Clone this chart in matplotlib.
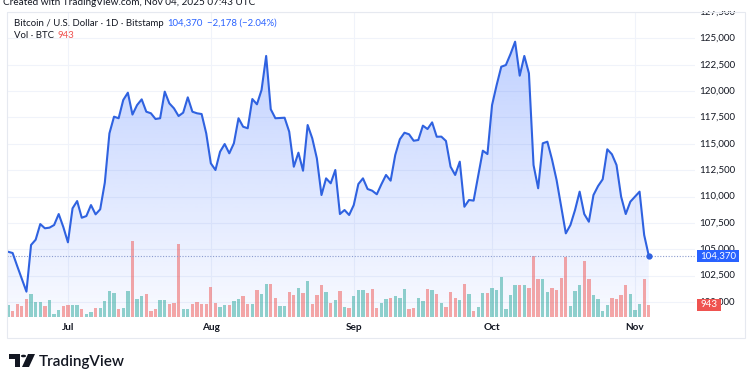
import numpy as np
import pandas as pd
import matplotlib
matplotlib.use("Agg")
import matplotlib.pyplot as plt
import matplotlib.dates as mdates
from matplotlib.patches import Rectangle, Polygon, Circle
from matplotlib.transforms import blended_transform_factory

# ---------------- data ----------------
start_date = "2025-06-18"
end_date = "2025-11-04"

close = [
    104760, 104640, 103400, 102200, 100980, 105400, 105900, 107380, 106980, 107040,
    107290, 108330, 107100,
    105650, 108870, 109560, 107980, 108140, 109180, 108300, 108780, 111300, 115970,
    117550, 117400, 119130, 119820, 117750, 118650, 119190, 118020, 117870, 117330,
    117400, 119920, 118810, 118340, 117610, 117930, 119380, 118020, 117870, 117800,
    115970,
    113130, 112500, 114230, 114960, 114080, 115030, 117400, 116600, 116450, 119220,
    118720, 120080, 123300, 118250, 117400, 117420, 117450, 116130, 112810, 114140,
    112430, 116760, 115500, 113600, 110130, 111710, 111240, 112500, 108330, 108710,
    108240,
    109180, 111170, 111710, 110700, 110540, 110200, 111150, 112030, 111490, 113920,
    115410, 116030, 115880, 115270, 115340, 116700, 116380, 117010, 115650, 115660,
    115250, 112810, 112030, 113290, 109020, 109660, 109600, 111960, 114330, 114010,
    118650, 120550, 122280, 122440, 123480, 124650, 121430, 123300, 121660, 112970,
    110770, 115030, 115180, 113510, 111550, 109020, 106500, 107290, 108710, 110450,
    108330, 107600, 110130, 110980, 111620, 114460, 113990, 112970, 109970, 108330,
    109500,
    109970, 110450, 106340, 104370,
]

volume = [
    943, 437, 974, 821, 1358, 1741, 1150, 1150, 821, 1281,
    207, 514, 821, 897, 897, 897, 591, 207, 384, 690,
    690, 1204, 1971, 1864, 637, 690, 1994, 5806, 1404, 1588,
    1787, 460, 591, 1327, 1281, 974, 1074, 5622, 591, 591,
    1020, 1150, 1020, 1020, 2301,
    1074, 767, 897, 897, 1204, 1404, 1588, 974, 997, 2048,
    1787, 2554, 2531, 1457, 821, 821, 1918, 1664, 2224, 1818,
    2738, 974, 1710, 2431, 1918, 1074, 1327, 1971, 767, 713,
    1588, 2094, 2094, 1864, 2171, 713, 1097, 1358, 1457, 1588,
    1457, 2171, 591, 690, 1480, 1227, 2171,
    2094, 1787, 1074, 767, 1918, 1480, 1281, 2554, 1787, 437,
    767, 1841, 1841, 2247, 2048, 3068, 591, 1664, 2431, 2431,
    2477, 2247, 4679, 2938, 2938, 1918, 2224, 2048, 2991, 4602,
    844, 1994, 2431, 4295, 2938, 1710, 1404, 437, 943, 1480,
    1404, 1664, 2477, 1787, 514, 974, 2938, 943,
]

month_ticks = ["2025-07-01", "2025-08-01", "2025-09-01", "2025-10-01", "2025-11-01"]
month_labels = ["Jul", "Aug", "Sep", "Oct", "Nov"]
price_ticks = [100000, 102500, 105000, 107500, 110000, 112500, 115000,
               117500, 120000, 122500, 125000, 127500]

title_text = "Bitcoin / U.S. Dollar \u00b7 1D \u00b7 Bitstamp"
last_price = 104370
last_change = -2178
last_change_pct = -2.04
vol_title = "Vol \u00b7 BTC"
last_volume = 943
created_text = "Created with TradingView.com, Nov 04, 2025 07:43 UTC"
brand_text = "TradingView"

# ---------------- styling ----------------
W, H = 750, 375
FONT = ["Lato", "DejaVu Sans"]
TXT = "#131722"
LINE = "#2f62e0"
UP = (38/255, 166/255, 154/255, 0.5)
DOWN = (239/255, 83/255, 80/255, 0.5)
GRID = "#f0f3fa"
plt.rcParams["font.family"] = FONT

dates = pd.date_range(start_date, end_date, freq="D")
assert len(dates) == len(close) == len(volume)
x = mdates.date2num(dates)
close = np.array(close, dtype=float)
volume = np.array(volume, dtype=float)

up = np.r_[True, close[1:] >= close[:-1]]
bar_colors = [UP if u else DOWN for u in up]

fig = plt.figure(figsize=(W / 100, H / 100), dpi=100)
fig.patch.set_facecolor("white")


def fx(px):
    return px / W


def fy(py):
    return 1 - py / H


AX_L, AX_R, AX_T, AX_B = 7, 695, 12, 317
rect = [fx(AX_L), fy(AX_B), (AX_R - AX_L) / W, (AX_B - AX_T) / H]

PX_PER_DAY = 4.61
PRICE_PER_PX = 2500 / 26.4
y_top = 125000 + (38 - AX_T) * PRICE_PER_PX
y_bot = 125000 - (AX_B - 38) * PRICE_PER_PX
x_left = x[0] - (8 - AX_L) / PX_PER_DAY
x_right = x[0] + (AX_R - 8) / PX_PER_DAY

# base axes: grid + gradient fill
ax = fig.add_axes(rect)
ax.set_xlim(x_left, x_right)
ax.set_ylim(y_bot, y_top)
for s in ax.spines.values():
    s.set_visible(False)
ax.set_yticks(price_ticks)
ax.set_xticks(mdates.date2num(pd.to_datetime(month_ticks)))
ax.set_xticklabels(month_labels, fontsize=7.2, color=TXT, fontweight="bold")
ax.tick_params(axis="x", length=0, pad=4.5)
ax.tick_params(axis="y", length=0, labelleft=False, labelright=False)
ax.grid(True, color=GRID, lw=0.8)
ax.set_axisbelow(True)

# gradient under the line
verts = [(x[0], y_bot)] + list(zip(x, close)) + [(x[-1], y_bot)]
poly = Polygon(verts, closed=True, facecolor="none", edgecolor="none")
ax.add_patch(poly)
grad = np.linspace(0.30, 0.03, 256).reshape(-1, 1)
rgba = np.zeros((256, 1, 4))
rgba[..., 0] = 41 / 255
rgba[..., 1] = 98 / 255
rgba[..., 2] = 255 / 255
rgba[..., 3] = grad
im = ax.imshow(rgba, extent=[x[0], x[-1], y_bot, 125500], aspect="auto",
               origin="upper", zorder=1)
im.set_clip_path(poly)

# volume axes
vax = ax.twinx()
vax.set_ylim(0, (AX_B - AX_T) * (last_volume / 12.3))
vax.bar(x, volume, width=0.72, color=bar_colors, zorder=2)
vax.set_yticks([])
for s in vax.spines.values():
    s.set_visible(False)

# line axes
lax = ax.twinx()
lax.set_ylim(y_bot, y_top)
lax.set_yticks([])
for s in lax.spines.values():
    s.set_visible(False)
lax.plot(x, close, color=LINE, lw=1.5, solid_joinstyle="round", zorder=3)
lax.axhline(last_price, color="#8c9ccf", lw=0.8, ls=(0, (1, 1.5)), zorder=2)
lax.plot([x[-1]], [last_price], "o", color=LINE, ms=3.5, zorder=4)

# right price scale labels
tr_price = blended_transform_factory(fig.transFigure, ax.transData)
for p in price_ticks:
    fig.text(fx(735), p, f"{p:,}", transform=tr_price, ha="right", va="center",
             fontsize=7.0, color=TXT)

# cover the cut-off top of the scale
fig.patches.append(Rectangle((fx(690), fy(11)), fx(60), 11 / H, transform=fig.transFigure,
                             facecolor="white", edgecolor="none", zorder=5))

# last price / last volume tags
tag_h = 12 / H
y_last = ax.transData.transform((0, last_price))[1] / fig.bbox.height
fig.patches.append(Rectangle((fx(697), y_last - tag_h / 2), fx(42), tag_h,
                             transform=fig.transFigure, facecolor="#2962ff",
                             edgecolor="none", zorder=6))
fig.text(fx(718), y_last, f"{last_price:,}", ha="center", va="center",
         fontsize=7.0, color="white", zorder=7)

y_vol = vax.transData.transform((0, last_volume))[1] / fig.bbox.height
fig.patches.append(Rectangle((fx(697), y_vol - tag_h / 2), fx(24), tag_h,
                             transform=fig.transFigure, facecolor="#ef5350",
                             edgecolor="none", zorder=6))
fig.text(fx(709), y_vol, f"{last_volume:,}", ha="center", va="center",
         fontsize=7.0, color="white", zorder=7)

# chart frame
fig.patches.append(Rectangle((fx(AX_L), fy(338)), fx(745 - AX_L), (338 - AX_T) / H,
                             transform=fig.transFigure, facecolor="none",
                             edgecolor="#e6e9f0", lw=0.8, zorder=4))

# header texts (chained horizontally)
fig.text(fx(3), fy(5), created_text, ha="left", va="baseline", fontsize=7.2, color=TXT)
renderer = fig.canvas.get_renderer()


def chain(parts, x0, ypx, gap=4):
    xp = x0
    for s, c in parts:
        t = fig.text(fx(xp), fy(ypx), s, ha="left", va="center", fontsize=6.9, color=c)
        bb = t.get_window_extent(renderer=renderer)
        xp = bb.x1 + gap


chg = f"\u2212{abs(last_change):,} (\u2212{abs(last_change_pct):.2f}%)"
chain([(title_text, TXT), (f"{last_price:,}", "#2962ff"), (chg, "#2962ff")], 14, 23)
chain([(vol_title, TXT), (f"{last_volume}", "#ef5350")], 14, 36)

# TradingView logo
def P(px, py):
    return (fx(px), fy(py))

logo_c = "#131722"
fig.patches.append(Polygon([P(9, 354), P(20, 354), P(20, 367), P(15, 367), P(15, 359), P(9, 359)],
                           closed=True, transform=fig.transFigure, facecolor=logo_c,
                           edgecolor="none"))
fig.patches.append(Circle(P(23.5, 356), 2.6 / W, transform=fig.transFigure,
                          facecolor=logo_c, edgecolor="none"))
fig.patches.append(Polygon([P(28, 354), P(35, 354), P(29, 367), P(22, 367)],
                           closed=True, transform=fig.transFigure, facecolor=logo_c,
                           edgecolor="none"))
fig.text(fx(39), fy(366), brand_text, ha="left", va="baseline", fontsize=11,
         fontweight="semibold", color=logo_c)

fig.savefig("out.png", dpi=100, facecolor="white")
